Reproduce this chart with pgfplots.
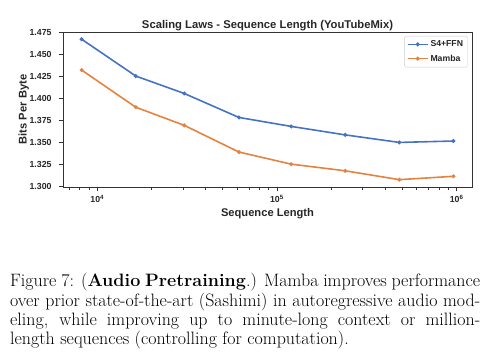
\documentclass[border=0pt]{standalone}
\usepackage{pgfplots}
\pgfplotsset{compat=1.18}
\usepackage{fontspec}
\newfontfamily\chartfont{Liberation Sans}
\definecolor{sblue}{HTML}{4672C4}
\definecolor{sorange}{HTML}{E5823F}
\definecolor{spine}{HTML}{333333}
\definecolor{txt}{HTML}{262626}
\newcommand{\jline}[1]{\hbox to 470bp{\spaceskip=0.3333em plus 1.5em minus 0.2em #1}}
\begin{document}
\begin{tikzpicture}
\useasboundingbox (0,0) rectangle (494bp,363bp);
\begin{axis}[
  at={(63bp,176bp)}, anchor=south west,
  width=409bp, height=155bp, scale only axis,
  xmode=log, xmin=6450, xmax=1.218e6,
  ymin=1.299, ymax=1.476,
  ytick={1.300,1.325,1.350,1.375,1.400,1.425,1.450,1.475},
  yticklabels={1.300,1.325,1.350,1.375,1.400,1.425,1.450,1.475},
  xtick={1e4,1e5,1e6},
  xticklabels={10\textsuperscript{4},10\textsuperscript{5},10\textsuperscript{6}},
  minor xtick={7000,8000,9000,20000,30000,40000,50000,60000,70000,80000,90000,200000,300000,400000,500000,600000,700000,800000,900000},
  tick pos=left, tick align=outside,
  major tick length=4.5bp, minor tick length=2.8bp,
  every tick/.style={spine, line width=0.8pt},
  axis line style={spine, line width=0.9pt},
  ticklabel style={font=\chartfont\bfseries\fontsize{8.8}{10}\selectfont, text=txt},
  yticklabel style={anchor=east, xshift=-3.5bp},
  xticklabel style={anchor=base, yshift=-11.5bp},
  every axis title shift=0pt,
  title={Scaling Laws - Sequence Length (YouTubeMix)},
  title style={font=\chartfont\bfseries\fontsize{11.3}{13}\selectfont, text=txt, at={(axis description cs:0.5,1)}, anchor=base, yshift=3.5bp},
  xlabel={Sequence Length},
  xlabel style={font=\chartfont\bfseries\fontsize{11.2}{13}\selectfont, text=txt, at={(axis description cs:0.5,0)}, anchor=base, yshift=-30bp},
  ylabel={Bits Per Byte},
  ylabel style={font=\chartfont\bfseries\fontsize{11.2}{13}\selectfont, text=txt, at={(axis description cs:-0.0888,0.5)}, anchor=base},
  legend style={at={(axis description cs:1,1)}, anchor=north east, xshift=-4.3bp, yshift=-4bp,
    draw=black!20, rounded corners=1.5pt, fill=white,
    font=\chartfont\bfseries\fontsize{8.7}{10}\selectfont, text=txt,
    inner xsep=2.5pt, inner ysep=2.5pt, row sep=2.6pt,
    legend cell align=left},
  legend image code/.code={\draw[mark repeat=2,mark phase=2] plot coordinates {(0bp,0bp) (10bp,0bp) (20bp,0bp)};},
]
\addplot[sblue, line width=1.6pt, mark=*, mark size=1.1bp] coordinates {
  (8192,1.4677) (16384,1.4257) (30500,1.4058) (61500,1.3784)
  (120000,1.3682) (240000,1.3585) (480000,1.3499) (960000,1.3515)
};
\addlegendentry{S4+FFN}
\addplot[sorange, line width=1.6pt, mark=*, mark size=1.1bp] coordinates {
  (8192,1.4325) (16384,1.3901) (30500,1.3694) (61500,1.3389)
  (120000,1.3251) (240000,1.3175) (480000,1.3074) (960000,1.3112)
};
\addlegendentry{Mamba}
\end{axis}
\node[anchor=base west, inner sep=0pt] at (10bp,76.3bp) {\parbox[t]{470bp}{\fontsize{18}{19.5}\selectfont
\jline{Figure 7: (\textbf{Audio Pretraining}.) Mamba improves performance}
\jline{over prior state-of-the-art (Sashimi) in autoregressive audio mod-}
\jline{eling, while improving up to minute-long context or million-}
\hbox{length sequences (controlling for computation).}}};
\end{tikzpicture}
\end{document}
